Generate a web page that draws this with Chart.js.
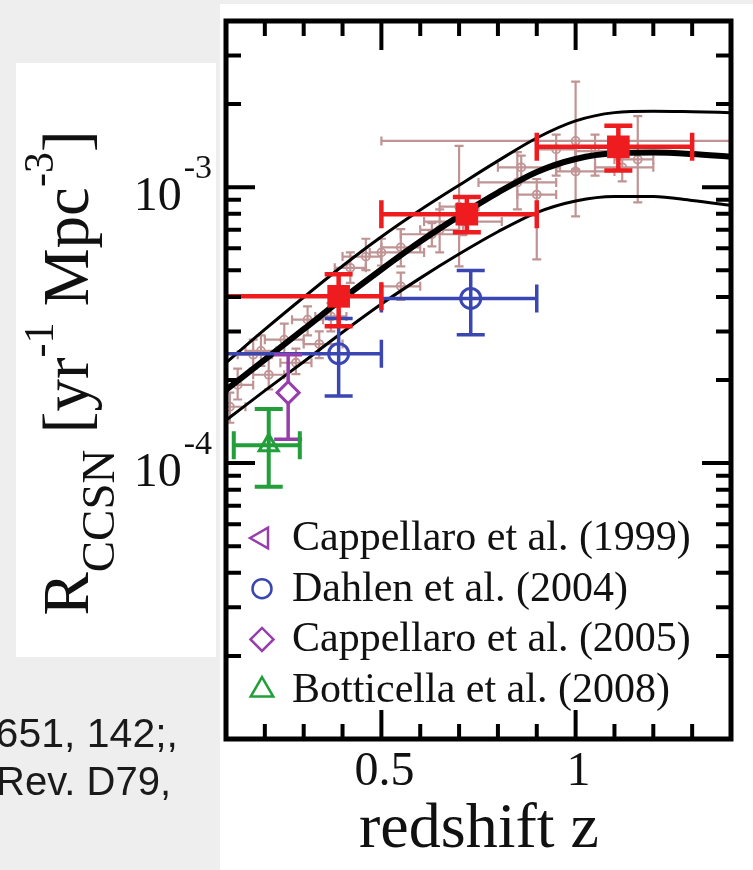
<!DOCTYPE html>
<html>
<head>
<meta charset="utf-8">
<script src="https://cdn.jsdelivr.net/npm/chart.js@4.4.1/dist/chart.umd.min.js"></script>
<style>
  html, body { margin: 0; padding: 0; background: #eeeeee; }
  canvas { display: block; }
</style>
</head>
<body>
<canvas id="myChart" width="753" height="870"></canvas>
<script>
const ctx = document.getElementById('myChart');

// model curves (best fit and upper/lower band)
const curveZ    = [0.1, 0.2, 0.3, 0.4, 0.5, 0.6, 0.7, 0.8, 0.9, 1.0, 1.1, 1.2, 1.3, 1.4];
const curveMid  = [1.84e-4, 2.37e-4, 3.055e-4, 3.94e-4, 5.03e-4, 6.35e-4, 7.85e-4, 9.55e-4, 1.135e-3, 1.265e-3, 1.327e-3, 1.334e-3, 1.318e-3, 1.288e-3];
const curveHigh = [2.31e-4, 3.05e-4, 3.99e-4, 5.18e-4, 6.61e-4, 8.26e-4, 1.016e-3, 1.245e-3, 1.507e-3, 1.738e-3, 1.862e-3, 1.884e-3, 1.875e-3, 1.862e-3];
const curveLow  = [1.43e-4, 1.83e-4, 2.33e-4, 2.98e-4, 3.77e-4, 4.68e-4, 5.72e-4, 6.89e-4, 8.09e-4, 8.91e-4, 9.25e-4, 9.25e-4, 8.95e-4, 8.59e-4];

// older compilation (light brown)
const compZ   = [1.00, 1.00, 0.95, 1.05, 1.16, 1.12, 0.90, 0.85, 0.86, 0.70, 0.65, 0.71, 0.63, 0.55, 0.50, 0.55, 0.46, 0.42, 0.31, 0.25, 0.28, 0.21, 0.13, 0.17, 0.34, 0.11, 0.19, 0.37];
const compZLo = [0.50, 0.95, 0.90, 1.00, 1.10, 1.05, 0.85, 0.75, 0.80, 0.65, 0.60, 0.61, 0.55, 0.50, 0.47, 0.50, 0.40, 0.38, 0.27, 0.20, 0.24, 0.17, 0.10, 0.13, 0.30, 0.05, 0.15, 0.33];
const compZHi = [1.45, 1.10, 1.00, 1.10, 1.20, 1.20, 0.95, 0.95, 0.96, 0.75, 0.70, 0.81, 0.70, 0.60, 0.61, 0.60, 0.50, 0.46, 0.35, 0.30, 0.32, 0.25, 0.17, 0.21, 0.40, 0.15, 0.23, 0.41];
const compV   = [1.47e-3, 1.14e-3, 1.37e-3, 1.35e-3, 1.26e-3, 1.18e-3, 9.4e-4, 1.04e-3, 1.18e-3, 8.5e-4, 7.0e-4, 7.5e-4, 6.75e-4, 6.05e-4, 5.8e-4, 4.37e-4, 5.6e-4, 5.1e-4, 3.31e-4, 2.8e-4, 2.31e-4, 2.09e-4, 1.92e-4, 2.47e-4, 2.7e-4, 1.6e-4, 2.55e-4, 3.4e-4];
const compVLo = [1.16e-3, 7.84e-4, 1.10e-3, 1.10e-3, 8.8e-4, 1.05e-3, 5.47e-4, 8.3e-4, 1.05e-3, 5.16e-4, 5.8e-4, 6.7e-4, 6.1e-4, 5.16e-4, 5.2e-4, 3.9e-4, 5.0e-4, 4.5e-4, 2.9e-4, 2.5e-4, 2.1e-4, 1.85e-4, 1.7e-4, 2.2e-4, 2.4e-4, 1.4e-4, 2.25e-4, 3.0e-4];
const compVHi = [2.41e-3, 1.47e-3, 1.55e-3, 1.55e-3, 1.81e-3, 1.30e-3, 1.07e-3, 1.34e-3, 1.30e-3, 1.41e-3, 8.3e-4, 8.3e-4, 7.4e-4, 7.04e-4, 6.5e-4, 4.9e-4, 6.5e-4, 5.8e-4, 3.7e-4, 3.2e-4, 2.6e-4, 2.4e-4, 2.2e-4, 2.8e-4, 3.0e-4, 1.8e-4, 2.9e-4, 3.8e-4];

// Dahlen et al. (2004)
const dahlenZ = [0.39, 0.73], dahlenZLo = [0.0, 0.5], dahlenZHi = [0.5, 0.9];
const dahlenV = [2.49e-4, 3.95e-4], dahlenVLo = [1.75e-4, 2.92e-4], dahlenVHi = [3.34e-4, 4.99e-4];

// Cappellaro et al. (2005)
const capp05Z = [0.26];
const capp05V = [1.80e-4], capp05VLo = [1.22e-4], capp05VHi = [2.47e-4];

// Botticella et al. (2008)
const bottZ = [0.21], bottZLo = [0.12], bottZHi = [0.29];
const bottV = [1.16e-4], bottVLo = [8.2e-5], bottVHi = [1.57e-4];

// new measurements (red)
const newZ = [0.39, 0.72, 1.11], newZLo = [0.0, 0.5, 0.9], newZHi = [0.5, 0.9, 1.3];
const newV = [4.02e-4, 7.98e-4, 1.40e-3], newVLo = [3.13e-4, 6.86e-4, 1.15e-3], newVHi = [4.83e-4, 9.2e-4, 1.67e-3];

// ticks
const xTicks = [0.2, 0.3, 0.4, 0.5, 0.6, 0.7, 0.8, 0.9, 1.0, 1.1, 1.2, 1.3];
const xMajor = [0.5, 1.0];
const xLabels = ['0.5', '1'];
const yMajor = [1e-4, 1e-3];
const yLabelExp = ['-4', '-3'];

const RED = 'rgb(238,28,30)', BLUE = 'rgb(58,70,178)', PURPLE = 'rgb(150,62,172)', GREEN = 'rgb(34,158,58)', BROWN = 'rgb(192,148,148)';

function pts(z, v, vlo, vhi, zlo, zhi) {
    return z.map((zz, i) => ({
        x: zz, y: v[i], yMin: vlo[i], yMax: vhi[i],
        xMin: zlo ? zlo[i] : null, xMax: zhi ? zhi[i] : null
    }));
}
function line(z, v) {
    return z.map((zz, i) => ({x: zz, y: v[i]}));
}

//draw error bars under each dataset's markers
const errorBars = {
    id: 'errorBars',
    beforeDatasetDraw(chart, args) {
        const ds = chart.data.datasets[args.index];
        if (!ds.errBar) return;
        const c = chart.ctx, a = chart.chartArea, xs = chart.scales.x, ys = chart.scales.y;
        const cap = ds.errBar.cap;
        c.save();
        c.beginPath();
        c.rect(a.left, a.top, a.right - a.left, a.bottom - a.top);
        c.clip();
        c.strokeStyle = ds.borderColor;
        c.lineWidth = ds.errBar.width;
        ds.data.forEach(p => {
            const px = xs.getPixelForValue(p.x), py = ys.getPixelForValue(p.y);
            c.beginPath();
            const y1 = ys.getPixelForValue(p.yMin), y2 = ys.getPixelForValue(p.yMax);
            c.moveTo(px, y1); c.lineTo(px, y2);
            c.moveTo(px - cap, y1); c.lineTo(px + cap, y1);
            c.moveTo(px - cap, y2); c.lineTo(px + cap, y2);
            if (p.xMin != null) {
                const x1 = xs.getPixelForValue(p.xMin), x2 = xs.getPixelForValue(p.xMax);
                c.moveTo(x1, py); c.lineTo(x2, py);
                c.moveTo(x1, py - cap); c.lineTo(x1, py + cap);
                c.moveTo(x2, py - cap); c.lineTo(x2, py + cap);
            }
            c.stroke();
        });
        c.restore();
    }
};

const background = {
    id: 'background',
    beforeDraw(chart) {
        const c = chart.ctx;
        c.save();
        c.fillStyle = '#eeeeee';
        c.fillRect(0, 0, chart.width, chart.height);
        c.fillStyle = '#ffffff';
        c.fillRect(220, 4, chart.width - 220, chart.height - 4);
        c.fillRect(16, 63, 200, 594);
        c.restore();
    }
};

const frame = {
    id: 'frame',
    afterDatasetsDraw(chart) {
        const c = chart.ctx, a = chart.chartArea, xs = chart.scales.x, ys = chart.scales.y;
        c.save();
        c.strokeStyle = '#000';
        c.lineWidth = 4;
        c.beginPath();
        xTicks.forEach(v => {
            const px = xs.getPixelForValue(v);
            const len = xMajor.includes(v) ? 29 : 15;
            c.moveTo(px, a.bottom); c.lineTo(px, a.bottom - len);
            c.moveTo(px, a.top); c.lineTo(px, a.top + len);
        });
        for (let e = -5; e <= -3; e++) {
            for (let m = 1; m <= 9; m++) {
                const v = m * Math.pow(10, e);
                const py = ys.getPixelForValue(v);
                if (py <= a.top + 2 || py >= a.bottom - 2) continue;
                const len = m === 1 ? 29 : 15;
                c.moveTo(a.left, py); c.lineTo(a.left + len, py);
                c.moveTo(a.right, py); c.lineTo(a.right - len, py);
            }
        }
        c.stroke();
        c.lineWidth = 5;
        c.strokeRect(a.left, a.top, a.right - a.left, a.bottom - a.top);
        c.restore();
    }
};

function richText(c, parts, x, y) {
    let cx = x;
    parts.forEach(p => {
        c.font = p[1] + 'px "Liberation Serif", "Times New Roman", serif';
        c.fillText(p[0], cx, y + p[2]);
        cx += c.measureText(p[0]).width;
    });
    return cx - x;
}
function richWidth(c, parts) {
    let w = 0;
    parts.forEach(p => {
        c.font = p[1] + 'px "Liberation Serif", "Times New Roman", serif';
        w += c.measureText(p[0]).width;
    });
    return w;
}

const labels = {
    id: 'labels',
    afterDraw(chart) {
        const c = chart.ctx, a = chart.chartArea, xs = chart.scales.x, ys = chart.scales.y;
        c.save();
        c.fillStyle = '#111';
        c.textBaseline = 'alphabetic';

        // x tick labels
        c.textAlign = 'center';
        c.font = '48px "Liberation Serif", serif';
        xMajor.forEach((v, i) => c.fillText(xLabels[i], xs.getPixelForValue(v) + 3, 785));
        c.font = '64px "Liberation Serif", serif';
        c.fillText('redshift z', 479, 847);

        // y tick labels
        c.textAlign = 'right';
        yMajor.forEach((v, i) => {
            const py = ys.getPixelForValue(v);
            c.font = '34px "Liberation Serif", serif';
            c.fillText(yLabelExp[i], 212, py - 9);
            const w = c.measureText(yLabelExp[i]).width;
            c.font = '48px "Liberation Serif", serif';
            c.fillText('10', 212 - w - 2, py + 23);
        });

        // y axis title
        c.textAlign = 'left';
        const parts = [['R', 65, 0], ['CCSN', 47, 26], [' [yr', 65, 0], ['-1', 42, -35], [' Mpc', 65, 0], ['-3', 42, -35], [']', 65, 0]];
        const tw = richWidth(c, parts);
        c.translate(88, 373 + tw / 2);
        c.rotate(-Math.PI / 2);
        richText(c, parts, 0, 0);
        c.setTransform(1, 0, 0, 1, 0, 0);

        // legend inside the plot
        const items = chart.data.datasets.filter(d => d.legendRow != null);
        items.forEach(d => {
            const row = d.legendRow;
            const base = 550 + row * 50.7;
            c.save();
            c.strokeStyle = d.borderColor;
            c.fillStyle = 'rgba(0,0,0,0)';
            c.lineWidth = 2.5;
            Chart.helpers.drawPoint(c, {pointStyle: d.pointStyle, radius: d.legendRadius, rotation: d.rotation || 0, borderWidth: 2.5}, 262, base - 12);
            c.restore();
            c.fillStyle = '#111';
            c.font = '42px "Liberation Serif", serif';
            c.fillText(d.label, 292, base);
        });

        // slide text at bottom left
        c.font = '41px "Liberation Sans", Arial, sans-serif';
        c.textAlign = 'right';
        c.fillStyle = '#1a1a1a';
        c.fillText('651, 142;,', 178, 747);
        c.font = '40px "Liberation Sans", Arial, sans-serif';
        c.fillText('Rev. D79,', 171, 795);
        c.restore();
    }
};

const myChart = new Chart(ctx, {
    type: 'scatter',
    data: {
        datasets: [
            {
                label: 'Cappellaro et al. (1999)',
                data: [],
                borderColor: PURPLE,
                pointStyle: 'triangle',
                rotation: -90,
                legendRow: 0,
                legendRadius: 12,
                order: 1
            },
            {
                label: 'New',
                data: pts(newZ, newV, newVLo, newVHi, newZLo, newZHi),
                borderColor: RED,
                backgroundColor: RED,
                pointStyle: 'rect',
                pointRadius: 16,
                pointBorderWidth: 0,
                errBar: {width: 4.5, cap: 14},
                order: 2
            },
            {
                label: 'Botticella et al. (2008)',
                data: pts(bottZ, bottV, bottVLo, bottVHi, bottZLo, bottZHi),
                borderColor: GREEN,
                backgroundColor: 'rgba(0,0,0,0)',
                pointStyle: 'triangle',
                pointRadius: 11,
                pointBorderWidth: 3,
                errBar: {width: 4, cap: 14},
                legendRow: 3,
                legendRadius: 13,
                order: 3
            },
            {
                label: 'Cappellaro et al. (2005)',
                data: pts(capp05Z, capp05V, capp05VLo, capp05VHi),
                borderColor: PURPLE,
                backgroundColor: 'rgba(255,255,255,1)',
                pointStyle: 'rectRot',
                pointRadius: 11,
                pointBorderWidth: 3,
                errBar: {width: 3.5, cap: 14},
                legendRow: 2,
                legendRadius: 11.5,
                order: 4
            },
            {
                label: 'Dahlen et al. (2004)',
                data: pts(dahlenZ, dahlenV, dahlenVLo, dahlenVHi, dahlenZLo, dahlenZHi),
                borderColor: BLUE,
                backgroundColor: 'rgba(0,0,0,0)',
                pointStyle: 'circle',
                pointRadius: 10,
                pointBorderWidth: 3,
                errBar: {width: 3.5, cap: 14},
                legendRow: 1,
                legendRadius: 9.5,
                order: 5
            },
            {
                type: 'line',
                label: 'fit',
                data: line(curveZ, curveMid),
                borderColor: '#000',
                borderWidth: 6,
                pointRadius: 0,
                cubicInterpolationMode: 'monotone',
                order: 6
            },
            {
                type: 'line',
                label: 'upper',
                data: line(curveZ, curveHigh),
                borderColor: '#000',
                borderWidth: 3,
                pointRadius: 0,
                cubicInterpolationMode: 'monotone',
                order: 7
            },
            {
                type: 'line',
                label: 'lower',
                data: line(curveZ, curveLow),
                borderColor: '#000',
                borderWidth: 3,
                pointRadius: 0,
                cubicInterpolationMode: 'monotone',
                order: 8
            },
            {
                label: 'compilation',
                data: pts(compZ, compV, compVLo, compVHi, compZLo, compZHi),
                borderColor: BROWN,
                backgroundColor: 'rgba(0,0,0,0)',
                pointStyle: 'circle',
                pointRadius: 4,
                pointBorderWidth: 1.8,
                errBar: {width: 2.2, cap: 4.5},
                order: 9
            }
        ]
    },
    options: {
        responsive: false,
        animation: false,
        layout: {padding: {left: 226, top: 21, right: 22, bottom: 131}},
        plugins: {
            legend: {display: false},
            tooltip: {enabled: false}
        },
        scales: {
            x: {type: 'linear', min: 0.1, max: 1.4, display: false},
            y: {type: 'logarithmic', min: 1e-5, max: 4e-3, display: false}
        }
    },
    plugins: [background, errorBars, frame, labels]
});
</script>
</body>
</html>
